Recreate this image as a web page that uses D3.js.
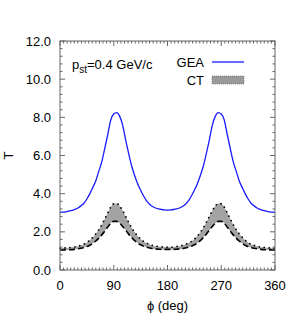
<!DOCTYPE html>
<html><head><meta charset="utf-8">
<script src="https://cdn.jsdelivr.net/npm/d3@7"></script>
<style>body{margin:0;background:#fff}svg{display:block}text{font-family:"Liberation Sans",Arial,sans-serif;fill:#000}</style>
</head><body><svg id="c" width="300" height="315"></svg>
<script>
const phi = [0,5,10,15,20,25,30,35,40,45,50,55,60,65,70,75,80,85,90,95,100,105,110,115,120,125,130,135,140,145,150,155,160,165,170,175,180,
 185,190,195,200,205,210,215,220,225,230,235,240,245,250,255,260,265,270,275,280,285,290,295,300,305,310,315,320,325,330,335,340,345,350,355,360];
const gea = [3.02,3.03,3.05,3.08,3.12,3.18,3.25,3.36,3.50,3.72,4.00,4.33,4.68,5.18,5.68,6.38,7.10,7.86,8.18,8.25,8.05,7.58,6.81,6.10,5.45,4.95,4.52,4.18,3.88,3.62,3.45,3.33,3.25,3.20,3.17,3.15,3.14,
 3.15,3.17,3.20,3.25,3.33,3.45,3.62,3.88,4.18,4.52,4.95,5.45,6.10,6.81,7.58,8.05,8.25,8.18,7.86,7.10,6.38,5.68,5.18,4.68,4.33,4.00,3.72,3.50,3.36,3.25,3.18,3.12,3.08,3.05,3.03,3.02];
const ctUpper = [1.15,1.15,1.16,1.17,1.19,1.21,1.24,1.29,1.35,1.44,1.56,1.72,1.90,2.12,2.38,2.68,3.00,3.30,3.47,3.48,3.35,3.10,2.80,2.50,2.22,1.98,1.78,1.62,1.50,1.41,1.34,1.29,1.25,1.23,1.21,1.20,1.20,
 1.20,1.21,1.23,1.25,1.29,1.34,1.41,1.50,1.62,1.78,1.98,2.22,2.50,2.80,3.10,3.35,3.48,3.47,3.30,3.00,2.68,2.38,2.12,1.90,1.72,1.56,1.44,1.35,1.29,1.24,1.21,1.19,1.17,1.16,1.15,1.15];
const ctLower = [1.05,1.05,1.06,1.06,1.07,1.09,1.11,1.14,1.18,1.23,1.30,1.40,1.52,1.67,1.84,2.04,2.25,2.45,2.55,2.55,2.45,2.28,2.08,1.88,1.70,1.54,1.42,1.32,1.25,1.19,1.15,1.12,1.10,1.09,1.08,1.08,1.08,
 1.08,1.08,1.09,1.10,1.12,1.15,1.19,1.25,1.32,1.42,1.54,1.70,1.88,2.08,2.28,2.45,2.55,2.55,2.45,2.25,2.04,1.84,1.67,1.52,1.40,1.30,1.23,1.18,1.14,1.11,1.09,1.07,1.06,1.06,1.05,1.05];
const xTicks = [0,90,180,270,360];
const yTicks = [0,2,4,6,8,10,12];
const yTickLabels = ["0.0","2.0","4.0","6.0","8.0","10.0","12.0"];
const seriesNames = ["GEA","CT"];

const svg = d3.select("#c");
const L=60,R=275,T=41,B=270;
const x = d3.scaleLinear().domain([0,360]).range([L,R]);
const y = d3.scaleLinear().domain([0,12]).range([B,T]);
const axCol="#666";

// band
const area = d3.area().x((d,i)=>x(phi[i])).y0((d,i)=>y(ctLower[i])).y1((d,i)=>y(ctUpper[i])).curve(d3.curveMonotoneX);
svg.append("path").attr("d",area(phi)).attr("fill","#a3a3a3");
const lineOf = arr => d3.line().x((d,i)=>x(phi[i])).y((d,i)=>y(arr[i])).curve(d3.curveMonotoneX)(phi);
svg.append("path").attr("d",lineOf(ctLower)).attr("fill","none").attr("stroke","#000").attr("stroke-width",1.6).attr("stroke-dasharray","6,3");
svg.append("path").attr("d",lineOf(ctUpper)).attr("fill","none").attr("stroke","#000").attr("stroke-width",1.8).attr("stroke-dasharray","0,5").attr("stroke-linecap","round");
svg.append("path").attr("d",lineOf(gea)).attr("fill","none").attr("stroke","#1a1aff").attr("stroke-width",1.3);

// axes
const xMinor = d3.range(0,361,6);
const yMinor = d3.range(0,12.01,0.4);
const g = svg.append("g");
g.append("rect").attr("x",L).attr("y",T).attr("width",R-L).attr("height",B-T).attr("fill","none").attr("stroke",axCol).attr("stroke-width",1);
xMinor.forEach(v=>{const big=xTicks.includes(v);const l=big?5:2.5;
  g.append("line").attr("x1",x(v)).attr("x2",x(v)).attr("y1",B).attr("y2",B-l).attr("stroke",axCol);
  g.append("line").attr("x1",x(v)).attr("x2",x(v)).attr("y1",T).attr("y2",T+l).attr("stroke",axCol);});
yMinor.forEach(v=>{const big=Math.abs(v/2-Math.round(v/2))<1e-6;const l=big?5:2.5;
  g.append("line").attr("y1",y(v)).attr("y2",y(v)).attr("x1",L).attr("x2",L+l).attr("stroke",axCol);
  g.append("line").attr("y1",y(v)).attr("y2",y(v)).attr("x1",R).attr("x2",R-l).attr("stroke",axCol);});
xTicks.forEach(v=>svg.append("text").attr("x",x(v)).attr("y",B+20).attr("text-anchor","middle").attr("font-size",13).text(v));
yTicks.forEach((v,i)=>svg.append("text").attr("x",L-9).attr("y",y(v)+4.5).attr("text-anchor","end").attr("font-size",13).text(yTickLabels[i]));
svg.append("text").attr("x",(L+R)/2).attr("y",310).attr("text-anchor","middle").attr("font-size",13).text("ϕ (deg)");
svg.append("text").attr("transform",`translate(13,${(T+B)/2}) rotate(-90)`).attr("text-anchor","middle").attr("font-size",13).text("T");

// annotation
const ann = svg.append("text").attr("x",72).attr("y",69).attr("font-size",13);
ann.append("tspan").text("p");
ann.append("tspan").attr("font-size",10).attr("dy",4).text("st");
ann.append("tspan").attr("dy",-4).text("=0.4 GeV/c");

// legend
svg.append("text").attr("x",204).attr("y",67).attr("text-anchor","end").attr("font-size",13).text(seriesNames[0]);
svg.append("line").attr("x1",212).attr("x2",244).attr("y1",62).attr("y2",62).attr("stroke","#1a1aff").attr("stroke-width",1.3);
svg.append("text").attr("x",204).attr("y",85).attr("text-anchor","end").attr("font-size",13).text(seriesNames[1]);
svg.append("rect").attr("x",212).attr("y",76).attr("width",32).attr("height",8).attr("fill","#999").attr("stroke","#777").attr("stroke-width",0.8).attr("stroke-dasharray","1,1");
</script></body></html>
